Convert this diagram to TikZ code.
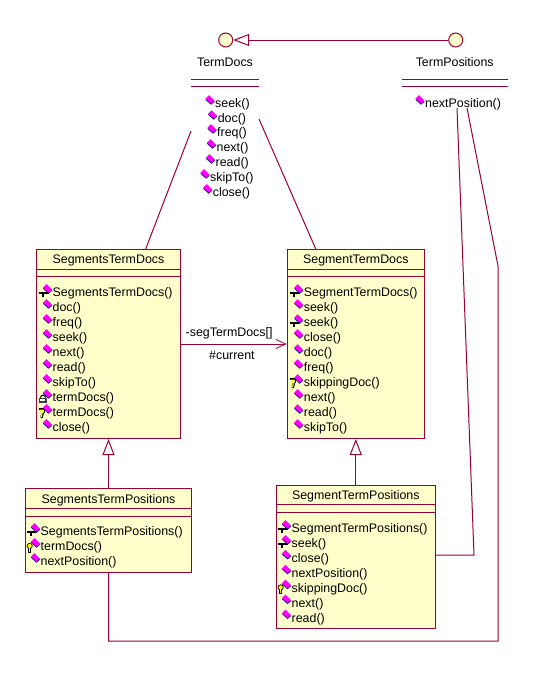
\documentclass[tikz,border=0pt]{standalone}
\usepackage{fontspec}
\setmainfont{Liberation Sans}
\usetikzlibrary{arrows.meta}
\definecolor{umlred}{HTML}{990033}
\definecolor{umlfill}{HTML}{FFFFCC}
\definecolor{umlpink}{HTML}{FF00FF}
\definecolor{umlshade}{HTML}{000080}
\definecolor{umlkey}{HTML}{FFFF00}
\tikzset{
  umlline/.style={draw=umlred,line width=1pt},
  classbox/.style={umlline,fill=umlfill,inner sep=0pt},
  lollipop/.style={circle,umlline,fill=umlfill,minimum size=14pt,inner sep=0pt},
  classname/.style={font=\fontsize{12.4}{14}\selectfont,inner sep=0pt,yshift=-0.7pt},
  mthname/.style={font=\fontsize{12.4}{14}\selectfont,anchor=west,inner sep=0pt,yshift=-0.7pt},
  realizes/.style={umlline,-{Triangle[open,fill=white,length=16pt,width=12pt]}},
  navigable/.style={umlline,-{Straight Barb[length=10pt,width=9pt,line width=0.8pt]}},
  mthicon/.pic={
    \fill[umlshade] (-4.5,0) -- (-1,-3.5) -- (4.5,2) -- (1,5) -- cycle;
    \fill[umlpink] (-4.5,-1) -- (-1,-4.5) -- (4.5,1) -- (1,4) -- cycle;
  },
  ctoricon/.pic={
    \fill[black] (-8.5,3.5) rectangle (1,5.5);
    \fill[black] (-5.5,5) rectangle (-3.5,8.5);
    \pic {mthicon};
  },
  lockicon/.pic={
    \draw[black,line width=1pt] (-7,4) arc (180:360:2.5);
    \fill[black!75] (-8.8,4) rectangle (-0.8,9);
    \fill[white] (-7.3,5.5) rectangle (-2.5,7);
    \pic {mthicon};
  },
  helpicon/.pic={
    \fill[black] (-8.5,-0.5) rectangle (-2.5,1);
    \fill[black] (-4,1) rectangle (-2.5,4);
    \fill[black] (-6.5,4) -- (-3.5,4) -- (-4.8,9.5) -- (-7,9.5) -- cycle;
    \fill[umlkey] (-7.5,1) -- (-4,1) -- (-4,3.5) -- (-5,4.5) -- (-5.5,8.5) -- (-6.5,8.5) -- (-6.3,3.5) -- cycle;
    \pic {mthicon};
  },
  keyicon/.pic={
    \fill[black] (-5.8,3.2) circle (3);
    \fill[black] (-7.3,4) rectangle (-4.5,10);
    \fill[umlkey] (-5.8,3.2) circle (2.1);
    \fill[umlkey] (-6.5,4) rectangle (-5.3,9);
    \pic {mthicon};
  },
}
\begin{document}
\begin{tikzpicture}[x=1pt,y=-1pt]
    \useasboundingbox (0,0) rectangle (533,680);
    % interfaces
    \node[lollipop] (termdocs) at (225.7,40) {};
    \node[lollipop] (termpos) at (455.7,40) {};
    \node[classname] (termdocsname) at (225,61.5) {TermDocs};
    \node[classname] (termposname) at (454.7,61.5) {TermPositions};
    \draw[realizes] (termpos) -- (termdocs);
    \draw[umlline] (191,79.5) -- (259,79.5);
    \draw[umlline] (191,86.5) -- (259,86.5);
    \draw[umlline] (402,79.5) -- (508,79.5);
    \draw[umlline] (402,86.5) -- (508,86.5);
    % classes
    \node[classbox,minimum width=144pt,minimum height=189pt] (segsdocs) at (108.5,344) {};
    \node[classbox,minimum width=137pt,minimum height=189pt] (segdocs) at (355.8,344) {};
    \node[classbox,minimum width=166pt,minimum height=84pt] (segspos) at (108.5,530.3) {};
    \node[classbox,minimum width=159pt,minimum height=143pt] (segpos) at (355.8,556.8) {};
    \node[classname] (segsdocsname) at (108.5,260) {SegmentsTermDocs};
    \node[classname] (segdocsname) at (355.8,260) {SegmentTermDocs};
    \node[classname] (segsposname) at (108.5,499.8) {SegmentsTermPositions};
    \node[classname] (segposname) at (355.8,496) {SegmentTermPositions};
    % compartments
    \foreach \y in {269.5,276.3} {
      \draw[umlline] (segsdocs.west |- 0,\y) -- (segsdocs.east |- 0,\y);
      \draw[umlline] (segdocs.west |- 0,\y) -- (segdocs.east |- 0,\y);
    }
    \foreach \y in {508.7,516} \draw[umlline] (segspos.west |- 0,\y) -- (segspos.east |- 0,\y);
    \foreach \y in {504.3,512} \draw[umlline] (segpos.west |- 0,\y) -- (segpos.east |- 0,\y);
    % methods
    \foreach \x/\y/\m [count=\i] in {215/104/seek(),217.6/119/doc(),217/133/freq(),216.5/148/next(),215.5/163/read(),210/178/skipTo(),212.7/193/close()} {
      \node[mthname] (tdm\i) at (\x,\y) {\m};
      \pic at ([shift={(-5,-5)}]tdm\i.west) {mthicon};
    }
    \node[mthname] (tpm1) at (425,104) {nextPosition()};
    \pic at ([shift={(-5,-5)}]tpm1.west) {mthicon};
    \foreach \ic/\m [count=\i] in {ctoricon/SegmentsTermDocs(),mthicon/doc(),mthicon/freq(),mthicon/seek(),mthicon/next(),mthicon/read(),mthicon/skipTo(),lockicon/termDocs(),helpicon/termDocs(),mthicon/close()} {
      \node[mthname] (sdm\i) at (52.5,278+15*\i) {\m};
      \pic at ([shift={(-5,-5)}]sdm\i.west) {\ic};
    }
    \foreach \ic/\m [count=\i] in {ctoricon/SegmentTermDocs(),mthicon/seek(),ctoricon/seek(),mthicon/close(),mthicon/doc(),mthicon/freq(),helpicon/skippingDoc(),mthicon/next(),mthicon/read(),mthicon/skipTo()} {
      \node[mthname] (gdm\i) at (303.7,278+15*\i) {\m};
      \pic at ([shift={(-5,-5)}]gdm\i.west) {\ic};
    }
    \foreach \ic/\m [count=\i] in {ctoricon/SegmentsTermPositions(),keyicon/termDocs(),mthicon/nextPosition()} {
      \node[mthname] (spm\i) at (40.5,517+15*\i) {\m};
      \pic at ([shift={(-5,-5)}]spm\i.west) {\ic};
    }
    \foreach \ic/\m [count=\i] in {ctoricon/SegmentTermPositions(),ctoricon/seek(),mthicon/close(),mthicon/nextPosition(),keyicon/skippingDoc(),mthicon/next(),mthicon/read()} {
      \node[mthname] (gpm\i) at (291.5,514+14.9*\i) {\m};
      \pic at ([shift={(-5,-5)}]gpm\i.west) {\ic};
    }
    % generalizations
    \draw[realizes] (segspos.north) -- (segsdocs.south);
    \draw[realizes] (segpos.north) -- (segdocs.south);
    % association
    \draw[navigable] (segsdocs.east) -- (segdocs.west);
    \node[mthname] (segrole) at (185.5,333) {-segTermDocs[]};
    \node[mthname] (currole) at (209,355) {\#current};
    % free ends
    \coordinate (a1) at (191,131);
    \coordinate (a2) at (259,119);
    \coordinate (a3) at (457,108);
    \coordinate (a4) at (467,108);
    \coordinate (b3) at (474,555);
    \coordinate (b4) at (498,266);
    \coordinate (c4) at (498,641);
    \coordinate (d4) at (108.5,641);
    \draw[umlline] (a1) -- (145.5,249.5);
    \draw[umlline] (a2) -- (316,249.5);
    \draw[umlline] (a3) -- (b3) -- (segpos.east |- b3);
    \draw[umlline] (a4) -- (b4) -- (c4) -- (d4) -- (segspos.south);
  \end{tikzpicture}
\end{document}
